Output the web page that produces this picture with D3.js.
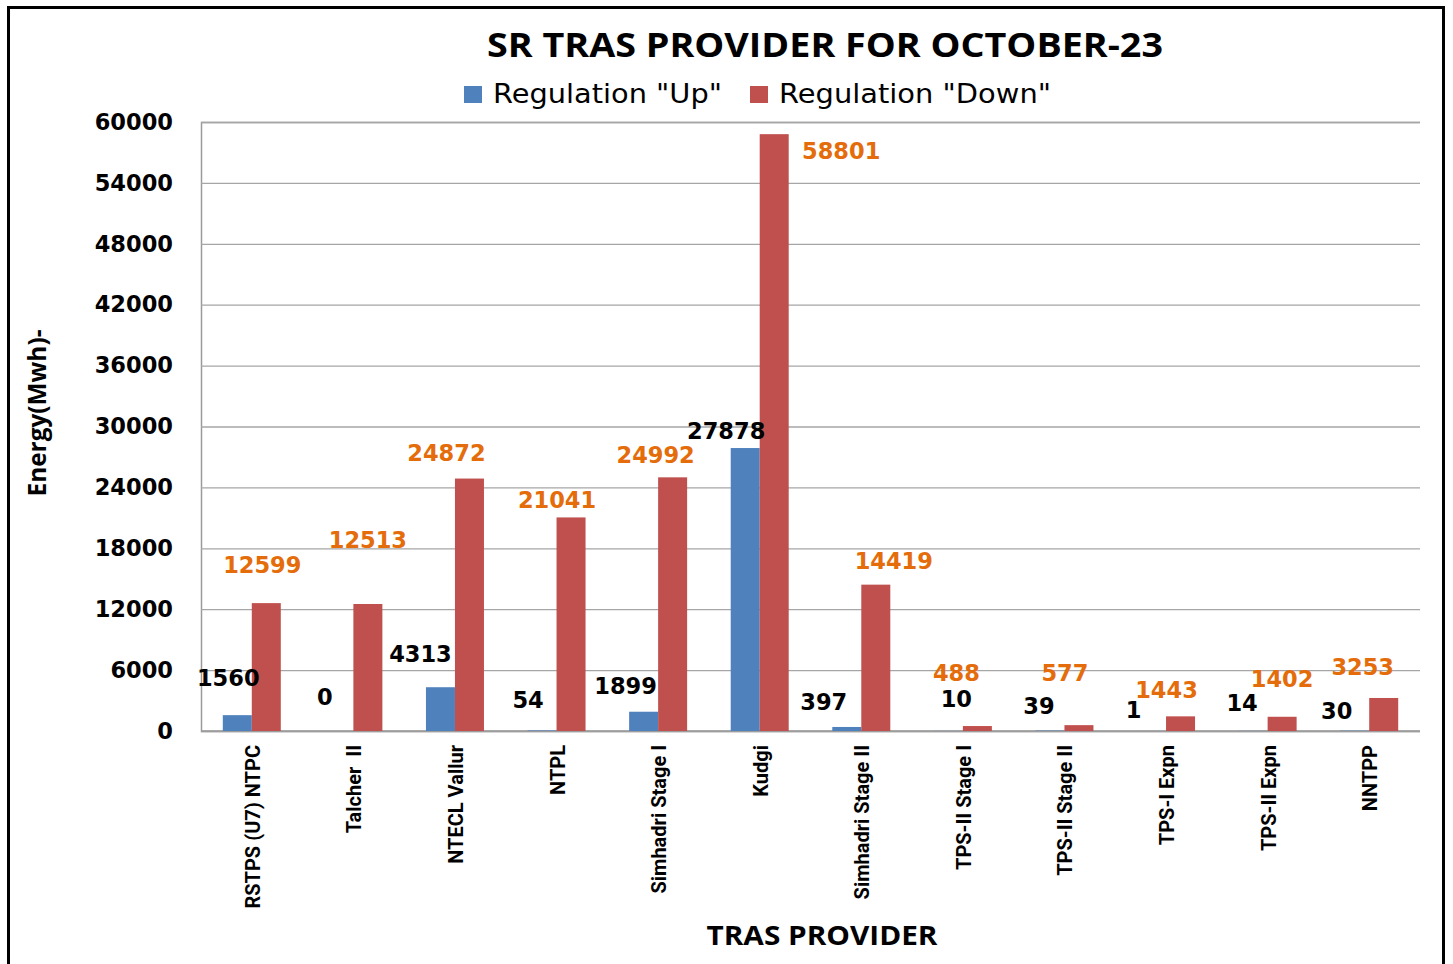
<!DOCTYPE html>
<html><head><meta charset="utf-8">
<script src="https://cdn.jsdelivr.net/npm/d3@7"></script>
<style>html,body{margin:0;padding:0;background:#fff;}svg{display:block;}</style>
</head><body>
<svg id="chart" width="1453" height="964"></svg>
<script>
const categories = ["RSTPS (U7) NTPC","Talcher  II","NTECL Vallur","NTPL","Simhadri Stage I","Kudgi","Simhadri Stage II","TPS-II Stage I","TPS-II Stage II","TPS-I Expn","TPS-II Expn","NNTPP"];
const upValues = [1560,0,4313,54,1899,27878,397,10,39,1,14,30];
const downValues = [12599,12513,24872,21041,24992,58801,14419,488,577,1443,1402,3253];
const yTicks = [0,6000,12000,18000,24000,30000,36000,42000,48000,54000,60000];
const seriesNames = ['Regulation "Up"','Regulation "Down"'];
// manual label nudges (as placed in the original chart), relative to bar top/center
const upNudge = [[-9,-37],[-14,-34],[-20,-33],[-14,-30],[-18,-26],[-19,-17],[-23,-25],[8,-32],[-11,-25],[-18,-21],[-11,-28],[-18,-20]];
const downNudge = [[-4,-38],[0,-64],[-23,-26],[-14,-17],[-17,-22],[67,17],[18,-24],[-21,-53],[-14,-52],[-14,-26],[0,-38],[-21,-31]];

const svg = d3.select("#chart");
const m = {left:201, top:122, right:1420, bottom:731};
const blue = "#4F81BD", red = "#C0504D", orange = "#E46C0A";

svg.append("rect").attr("x",8.5).attr("y",7.5).attr("width",1435).attr("height",980)
  .attr("fill","#fff").attr("stroke","#000").attr("stroke-width",3);

const x = d3.scaleBand().domain(categories).range([m.left,m.right]).paddingInner(0).paddingOuter(0);
const y = d3.scaleLinear().domain([0,60000]).range([m.bottom,m.top]);
const barW = 29;

const yAxis = d3.axisLeft(y).tickValues(yTicks).tickSize(-(m.right-m.left)).tickFormat(d=>d);
const gy = svg.append("g").attr("transform",`translate(${m.left},0)`).call(yAxis);
gy.select(".domain").attr("stroke","#9a9a9a").attr("stroke-width",1.5);
gy.selectAll(".tick line").attr("stroke","#a6a6a6").attr("stroke-width",1.3);
gy.selectAll(".tick text").attr("x",-28).attr("fill","#000")
  .style("font-family","DejaVu Sans").style("font-weight","bold").style("font-size","22.5px");

svg.append("line").attr("x1",m.left).attr("x2",m.right).attr("y1",m.bottom).attr("y2",m.bottom)
  .attr("stroke","#9a9a9a").attr("stroke-width",1.5);

const gc = d => x(d) + x.bandwidth()/2;
svg.append("g").selectAll("rect").data(categories).join("rect")
  .attr("x",(d)=>gc(d)-barW).attr("width",barW)
  .attr("y",(d,i)=>y(upValues[i])).attr("height",(d,i)=>m.bottom-y(upValues[i]))
  .attr("fill",blue);
svg.append("g").selectAll("rect").data(categories).join("rect")
  .attr("x",(d)=>gc(d)).attr("width",barW)
  .attr("y",(d,i)=>y(downValues[i])).attr("height",(d,i)=>m.bottom-y(downValues[i]))
  .attr("fill",red);

svg.append("g").selectAll("text").data(categories).join("text")
  .attr("x",(d,i)=>gc(d)-barW/2+upNudge[i][0])
  .attr("y",(d,i)=>y(upValues[i])+upNudge[i][1])
  .attr("text-anchor","middle").attr("dominant-baseline","central")
  .style("font-family","DejaVu Sans").style("font-weight","bold").style("font-size","22.5px")
  .attr("fill","#000").text((d,i)=>upValues[i]);
svg.append("g").selectAll("text").data(categories).join("text")
  .attr("x",(d,i)=>gc(d)+barW/2+downNudge[i][0])
  .attr("y",(d,i)=>y(downValues[i])+downNudge[i][1])
  .attr("text-anchor","middle").attr("dominant-baseline","central")
  .style("font-family","DejaVu Sans").style("font-weight","bold").style("font-size","22.5px")
  .attr("fill",orange).text((d,i)=>downValues[i]);

svg.append("g").selectAll("text").data(categories).join("text")
  .attr("transform",d=>`translate(${gc(d)+8},${m.bottom+14}) rotate(-90)`)
  .attr("text-anchor","end")
  .style("font-family","Roboto").style("font-weight","bold").style("font-size","20px")
  .attr("fill","#000").attr("xml:space","preserve").text(d=>d);

svg.append("text").attr("x",825).attr("y",57).attr("text-anchor","middle")
  .attr("textLength",676).attr("lengthAdjust","spacingAndGlyphs")
  .style("font-family","Open Sans").style("font-weight","bold").style("font-size","34px")
  .text("SR TRAS PROVIDER FOR OCTOBER-23");

const lg = svg.append("g");
const legX = [464, 750];
const legLen = [229, 272];
seriesNames.forEach((s,i)=>{
  lg.append("rect").attr("x",legX[i]).attr("y",86).attr("width",18).attr("height",17).attr("fill",i?red:blue);
  lg.append("text").attr("x",legX[i]+29).attr("y",103)
    .attr("textLength",legLen[i]).attr("lengthAdjust","spacingAndGlyphs")
    .style("font-family","DejaVu Sans").style("font-size","26px").text(s);
});

svg.append("text").attr("transform","translate(46,413) rotate(-90)").attr("text-anchor","middle")
  .attr("textLength",167).attr("lengthAdjust","spacingAndGlyphs")
  .style("font-family","Open Sans").style("font-weight","bold").style("font-size","25px").text("Energy(Mwh)-");
svg.append("text").attr("x",822).attr("y",945).attr("text-anchor","middle")
  .attr("textLength",231).attr("lengthAdjust","spacingAndGlyphs")
  .style("font-family","Open Sans").style("font-weight","bold").style("font-size","27px").text("TRAS PROVIDER");
</script>
</body></html>
